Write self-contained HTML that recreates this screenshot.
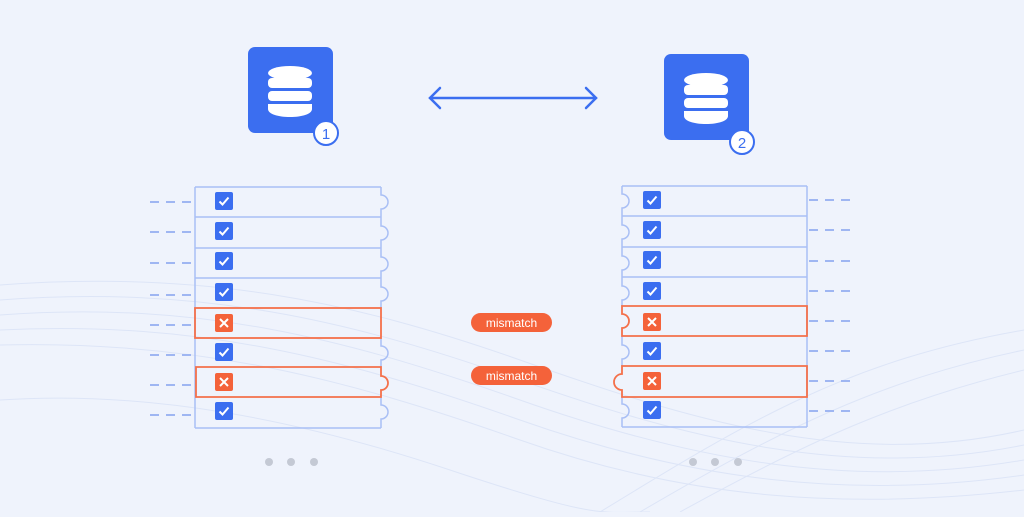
<!DOCTYPE html>
<html><head><style>
body{margin:0;width:1024px;height:512px;background:#eff3fc;overflow:hidden;font-family:"Liberation Sans",sans-serif}
</style></head><body>
<svg width="1024" height="512" viewBox="0 0 1024 512" xmlns="http://www.w3.org/2000/svg">
<rect width="1024" height="512" fill="#eff3fc"/>
<g fill="none" stroke="#dde5f7" stroke-width="1">
<path d="M0 285 C200 270 350 300 520 360 S850 470 1024 430"/>
<path d="M0 300 C200 285 350 320 520 380 S850 480 1024 445"/>
<path d="M0 315 C200 300 350 340 520 400 S850 490 1024 460"/>
<path d="M0 330 C200 320 350 360 520 420 S850 500 1024 475"/>
<path d="M0 345 C200 340 350 380 520 440 S850 510 1024 490"/>
<path d="M600 512 C750 420 850 360 1024 330"/>
<path d="M640 512 C780 430 880 380 1024 350"/>
<path d="M680 512 C810 440 900 400 1024 370"/>
<path d="M0 400 C150 390 300 420 450 470 S600 512 650 512"/>
</g>
<!-- DB icons -->
<g>
<rect x="248" y="47" width="85" height="86" rx="7" fill="#3b6ef0"/>
<g fill="#fff"><ellipse cx="290" cy="73" rx="22" ry="7"/><rect x="268" y="78" width="44" height="10" rx="4"/><rect x="268" y="91" width="44" height="10" rx="4"/><path d="M268 104h44v5c0 5-10 8-22 8s-22-3-22-8z"/></g>
<circle cx="326" cy="133" r="12" fill="#fff" stroke="#3b6ef0" stroke-width="2"/>
<text x="326" y="139" font-size="15" text-anchor="middle" fill="#3b6ef0">1</text>
<rect x="664" y="54" width="85" height="86" rx="7" fill="#3b6ef0"/>
<g fill="#fff"><ellipse cx="706" cy="80" rx="22" ry="7"/><rect x="684" y="85" width="44" height="10" rx="4"/><rect x="684" y="98" width="44" height="10" rx="4"/><path d="M684 111h44v5c0 5-10 8-22 8s-22-3-22-8z"/></g>
<circle cx="742" cy="142" r="12" fill="#fff" stroke="#3b6ef0" stroke-width="2"/>
<text x="742" y="148" font-size="15" text-anchor="middle" fill="#3b6ef0">2</text>
</g>
<!-- arrow -->
<g stroke="#3b6ef0" stroke-width="2.5" fill="none" stroke-linecap="round">
<line x1="430" y1="98" x2="596" y2="98"/>
<path d="M440 88l-10 10 10 10"/><path d="M586 88l10 10-10 10"/>
</g>
<!-- left column -->
<g stroke="#a9bff5" stroke-width="1.5" fill="none">
<line x1="195" y1="187" x2="195" y2="428"/>
<line x1="195" y1="428" x2="381" y2="428"/>
<line x1="195" y1="187" x2="381" y2="187"/>
<path d="M381 187v8a7 7 0 0 1 0 14v8"/>
<line x1="195" y1="217" x2="381" y2="217"/>
<path d="M381 217v9a7 7 0 0 1 0 14v8"/>
<line x1="195" y1="248" x2="381" y2="248"/>
<path d="M381 248v9a7 7 0 0 1 0 14v7"/>
<line x1="195" y1="278" x2="381" y2="278"/>
<path d="M381 278v9a7 7 0 0 1 0 14v7"/>
<path d="M381 338v8a7 7 0 0 1 0 14v7"/>
<path d="M381 397v8a7 7 0 0 1 0 14v9"/>
</g>
<g stroke="#f4704a" stroke-width="1.8" fill="none">
<rect x="195" y="308" width="186" height="30"/>
<path d="M196 367h185v9a7 7 0 0 1 0 14v7h-185z"/>
</g>
<!-- right column -->
<g stroke="#a9bff5" stroke-width="1.5" fill="none">
<line x1="807" y1="186" x2="807" y2="427"/>
<line x1="622" y1="427" x2="807" y2="427"/>
<line x1="622" y1="186" x2="807" y2="186"/>
<path d="M622 186v8a7 7 0 0 1 0 14v8"/>
<line x1="622" y1="216" x2="807" y2="216"/>
<path d="M622 216v9a7 7 0 0 1 0 14v8"/>
<line x1="622" y1="247" x2="807" y2="247"/>
<path d="M622 247v9a7 7 0 0 1 0 14v7"/>
<line x1="622" y1="277" x2="807" y2="277"/>
<path d="M622 277v9a7 7 0 0 1 0 14v6"/>
<path d="M622 336v9a7 7 0 0 1 0 14v7"/>
<path d="M622 396v8a7 7 0 0 1 0 14v9"/>
</g>
<g stroke="#f4704a" stroke-width="1.8" fill="none">
<path d="M807 306h-185v8a7 7 0 0 1 0 14v8h185z"/>
<path d="M807 366h-185v8a8 8 0 0 0 0 16v7h185z"/>
</g>
<!-- dashes -->
<g stroke="#9fb6f2" stroke-width="2" stroke-dasharray="9 7">
<line x1="150" y1="202" x2="195" y2="202"/><line x1="150" y1="232" x2="195" y2="232"/>
<line x1="150" y1="263" x2="195" y2="263"/><line x1="150" y1="295" x2="195" y2="295"/>
<line x1="150" y1="325" x2="195" y2="325"/><line x1="150" y1="355" x2="195" y2="355"/>
<line x1="150" y1="385" x2="195" y2="385"/><line x1="150" y1="415" x2="195" y2="415"/>
<line x1="809" y1="200" x2="852" y2="200"/><line x1="809" y1="230" x2="852" y2="230"/>
<line x1="809" y1="261" x2="852" y2="261"/><line x1="809" y1="291" x2="852" y2="291"/>
<line x1="809" y1="321" x2="852" y2="321"/><line x1="809" y1="351" x2="852" y2="351"/>
<line x1="809" y1="381" x2="852" y2="381"/><line x1="809" y1="411" x2="852" y2="411"/>
</g>
<!-- icons -->
<defs>
<g id="ok"><rect width="18" height="18" rx="2" fill="#3b6ef0"/><path d="M4.5 9.5l3 3 6-7" stroke="#fff" stroke-width="2" fill="none"/></g>
<g id="no"><rect width="18" height="18" rx="2" fill="#f4623a"/><path d="M5 5l8 8M13 5l-8 8" stroke="#fff" stroke-width="2"/></g>
</defs>
<use href="#ok" x="215" y="192"/><use href="#ok" x="215" y="222"/><use href="#ok" x="215" y="252"/><use href="#ok" x="215" y="283"/>
<use href="#no" x="215" y="314"/><use href="#ok" x="215" y="343"/><use href="#no" x="215" y="373"/><use href="#ok" x="215" y="402"/>
<use href="#ok" x="643" y="191"/><use href="#ok" x="643" y="221"/><use href="#ok" x="643" y="251"/><use href="#ok" x="643" y="282"/>
<use href="#no" x="643" y="313"/><use href="#ok" x="643" y="342"/><use href="#no" x="643" y="372"/><use href="#ok" x="643" y="401"/>
<!-- pills -->
<rect x="471" y="313" width="81" height="19" rx="9.5" fill="#f4623a"/>
<text x="511.5" y="327" font-size="12" text-anchor="middle" fill="#fff">mismatch</text>
<rect x="471" y="366" width="81" height="19" rx="9.5" fill="#f4623a"/>
<text x="511.5" y="380" font-size="12" text-anchor="middle" fill="#fff">mismatch</text>
<!-- dots -->
<g fill="#c4c9d4"><circle cx="269" cy="462" r="4"/><circle cx="291" cy="462" r="4"/><circle cx="314" cy="462" r="4"/>
<circle cx="693" cy="462" r="4"/><circle cx="715" cy="462" r="4"/><circle cx="738" cy="462" r="4"/></g>
</svg>
</body></html>
